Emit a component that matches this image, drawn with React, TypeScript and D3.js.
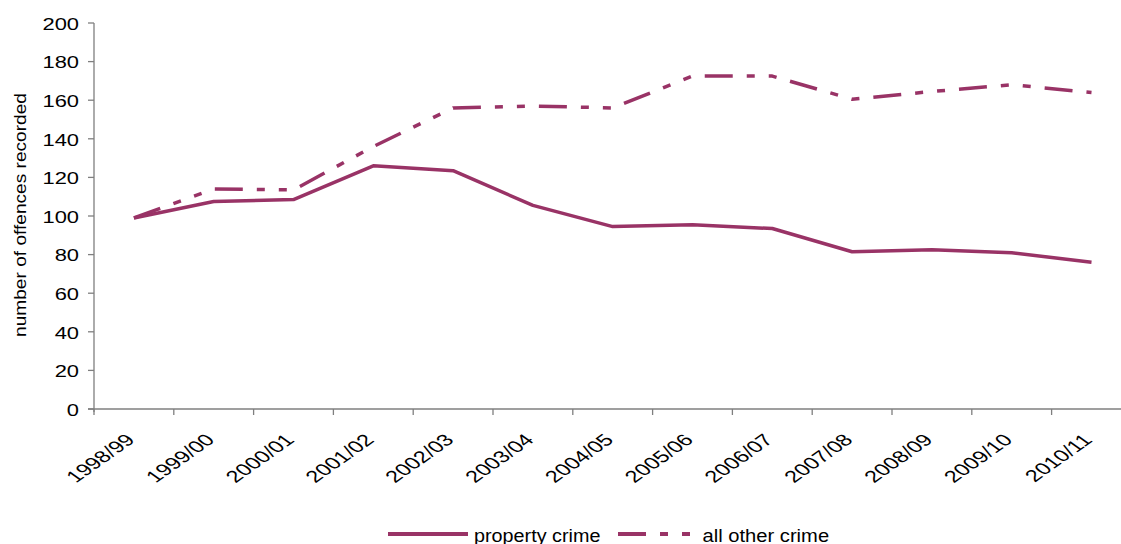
import React from "react";
import * as d3 from "d3";

const categories = ["1998/99","1999/00","2000/01","2001/02","2002/03","2003/04","2004/05","2005/06","2006/07","2007/08","2008/09","2009/10","2010/11"];
const propertyCrime = [99, 107.5, 108.5, 126, 123.5, 105.5, 94.5, 95.5, 93.5, 81.5, 82.5, 81, 76];
const otherCrime = [99, 114, 113.5, 136, 156, 157, 156, 172.5, 172.5, 160.5, 164.5, 168, 164];
const yTicks = [0, 20, 40, 60, 80, 100, 120, 140, 160, 180, 200];
const seriesNames = ["property crime", "all other crime"];

const W = 1121, H = 544;
const COLOR = "#993366";
const AXIS = "#7f7f7f";
const FONT = "'Liberation Sans', Arial, sans-serif";
const DASH = "28,14,8,14,8,14";

export default function App() {
  const x = d3.scaleBand<string>().domain(categories).range([94, 94 + 13 * 79.8]).padding(0);
  const y = d3.scaleLinear().domain([0, 200]).range([409, 23]);
  const cx = (c: string) => (x(c) as number) + x.bandwidth() / 2;
  const line = d3.line<number>().x((_, i) => cx(categories[i])).y(d => y(d));
  const boundaries = categories.map(c => x(c) as number);

  return (
    <svg width={W} height={H} style={{ position: "absolute", left: 0, top: 0, background: "#fff" }} fontFamily={FONT}>
      {/* axes */}
      <line x1={94} x2={94} y1={y(200)} y2={y(0) + 3} stroke={AXIS} strokeWidth={1.3} />
      <line x1={88} x2={W} y1={y(0)} y2={y(0)} stroke={AXIS} strokeWidth={1.3} />
      {yTicks.map(t => (
        <g key={t}>
          <line x1={88} x2={94} y1={y(t)} y2={y(t)} stroke={AXIS} strokeWidth={1.3} />
          <text transform={`translate(79,${y(t) + 6.8}) scale(1.37,1)`} textAnchor="end" fontSize={16} fill="#000">{t}</text>
        </g>
      ))}
      {boundaries.map((b, i) => (
        <line key={i} x1={b} x2={b} y1={y(0)} y2={y(0) + 6} stroke={AXIS} strokeWidth={1.3} />
      ))}
      {categories.map(c => (
        <text key={c} transform={`translate(${cx(c) + 2},${y(0) + 32}) scale(1.41,1) rotate(-45)`} textAnchor="end" fontSize={16.65} fill="#000">{c}</text>
      ))}
      <text transform={`translate(26,215) rotate(-90) scale(1.165,1)`} textAnchor="middle" fontSize={16.4} fill="#000">number of offences recorded</text>

      {/* series */}
      <path d={line(propertyCrime) || ""} fill="none" stroke={COLOR} strokeWidth={3.5} strokeLinejoin="round" />
      <path d={line(otherCrime) || ""} fill="none" stroke={COLOR} strokeWidth={3.5} strokeDasharray={DASH} strokeLinejoin="round" />

      {/* legend */}
      <line x1={388} x2={468} y1={534} y2={534} stroke={COLOR} strokeWidth={3.8} />
      <text transform={`translate(474,541.5) scale(1.07,1)`} fontSize={18.5} fill="#000">{seriesNames[0]}</text>
      <line x1={618} x2={695} y1={534} y2={534} stroke={COLOR} strokeWidth={3.8} strokeDasharray={DASH} />
      <text transform={`translate(702.5,541.5) scale(1.09,1)`} fontSize={18.5} fill="#000">{seriesNames[1]}</text>
    </svg>
  );
}
